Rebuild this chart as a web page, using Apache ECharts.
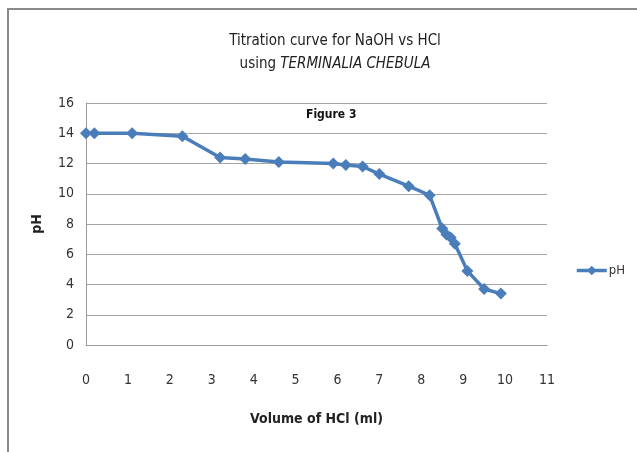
<!DOCTYPE html>
<html>
<head>
<meta charset="utf-8">
<script src="https://cdn.jsdelivr.net/npm/echarts@6/dist/echarts.min.js"></script>
<style>
html,body{margin:0;padding:0;background:#fff;}
#c{width:637px;height:452px;}
</style>
</head>
<body>
<div id="c"></div>
<script>
var volumes = [0, 0.2, 1.1, 2.3, 3.2, 3.8, 4.6, 5.9, 6.2, 6.6, 7.0, 7.7, 8.2, 8.5, 8.6, 8.7, 8.8, 9.1, 9.5, 9.9];
var phValues = [14.0, 14.0, 14.0, 13.8, 12.4, 12.3, 12.1, 12.0, 11.9, 11.8, 11.3, 10.5, 9.9, 7.7, 7.3, 7.1, 6.7, 4.9, 3.7, 3.4];
var seriesName = 'pH';
var titleLine1 = 'Titration curve for NaOH vs HCl';
var titleLine2a = 'using ';
var titleLine2b = 'TERMINALIA CHEBULA';
var xName = 'Volume of HCl (ml)';
var yName = 'pH';
var noteText = 'Figure 3';

var FONT = "'DejaVu Sans Condensed','Liberation Sans Narrow','Open Sans',sans-serif";
var data = volumes.map(function(v,i){return [v, phValues[i]];});
var chart = echarts.init(document.getElementById('c'));
chart.setOption({
  animation:false,
  backgroundColor:'#fff',
  graphic:[
    {type:'polyline', shape:{points:[[8,452],[8,9],[637,9]]}, style:{stroke:'#8a8a8a', lineWidth:2, fill:null}},
    {type:'text', left:306, top:109, style:{text:noteText, font:"bold 12px "+FONT, fill:'#111'}}
  ],
  title:{
    text:'{a|'+titleLine1+'}\n{a|'+titleLine2a+'}{b|'+titleLine2b+'}',
    left:330, top:25, textAlign:'center',
    textStyle:{
      fontWeight:'normal',
      rich:{
        a:{fontFamily:FONT, fontSize:15, fontWeight:'normal', color:'#222', lineHeight:23},
        b:{fontFamily:FONT, fontSize:15, fontWeight:'normal', fontStyle:'italic', color:'#222', lineHeight:23}
      }
    }
  },
  legend:{
    data:[seriesName], left:570, top:259, itemWidth:30, itemHeight:12, itemGap:1,
    lineStyle:{width:3.5},
    textStyle:{fontFamily:FONT, fontSize:13, color:'#333', padding:[0,0,0,-3]}
  },
  grid:{left:86, right:90, top:103, bottom:107},
  xAxis:{
    type:'value', min:0, max:11, interval:1,
    name:xName, nameLocation:'middle', nameGap:67,
    nameTextStyle:{fontFamily:FONT, fontSize:14, fontWeight:'bold', color:'#222'},
    axisLine:{show:true, lineStyle:{color:'#9a9a9a', width:1}},
    axisTick:{show:false},
    axisLabel:{fontFamily:FONT, fontSize:14, color:'#333', margin:28},
    splitLine:{show:false}
  },
  yAxis:{
    type:'value', min:0, max:16, interval:2,
    name:yName, nameLocation:'middle', nameGap:42, nameRotate:90,
    nameTextStyle:{fontFamily:FONT, fontSize:14, fontWeight:'bold', color:'#222'},
    axisLine:{show:true, lineStyle:{color:'#9a9a9a', width:1}},
    axisTick:{show:false},
    axisLabel:{fontFamily:FONT, fontSize:14, color:'#333', margin:12},
    splitLine:{show:true, lineStyle:{color:'#a6a6a6', width:1}}
  },
  series:[{
    name:seriesName, type:'line', data:data,
    symbol:'diamond', symbolSize:12,
    lineStyle:{color:'#4a7ebb', width:3.5},
    itemStyle:{color:'#4a7ebb'}
  }]
});
</script>
</body>
</html>
